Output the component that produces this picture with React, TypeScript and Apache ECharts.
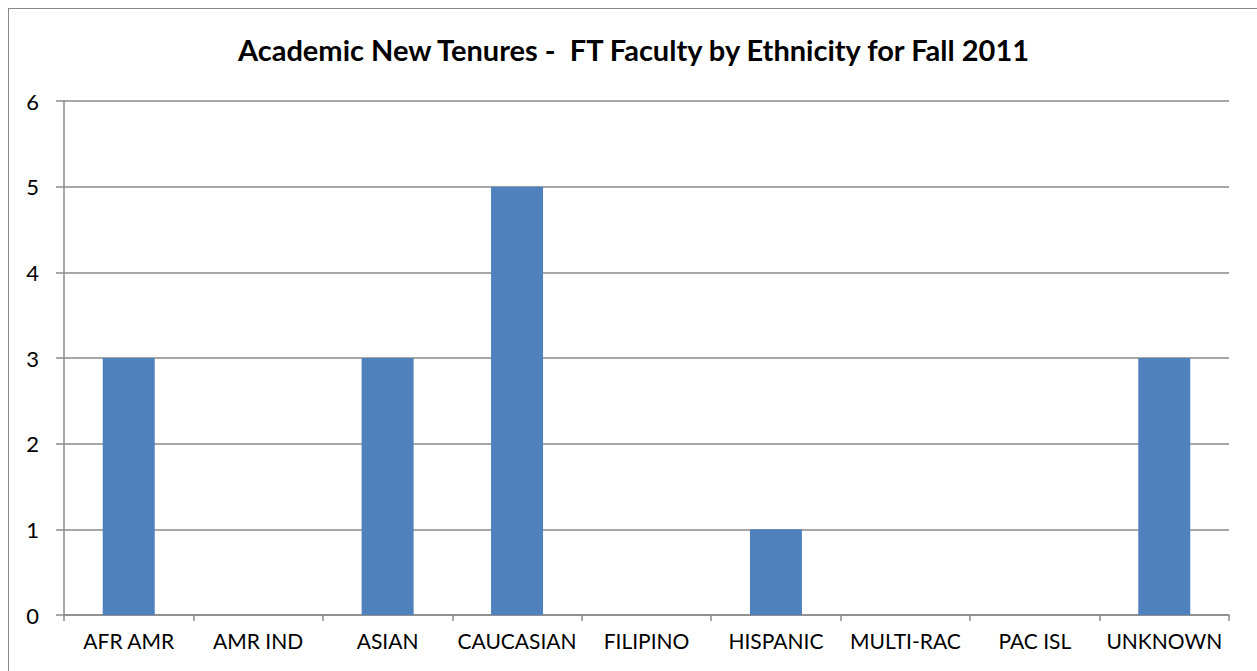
import React, { useEffect, useRef } from "react";
import * as echarts from "echarts";

const titleText = "Academic New Tenures -  FT Faculty by Ethnicity for Fall 2011";
const categories = ["AFR AMR", "AMR IND", "ASIAN", "CAUCASIAN", "FILIPINO", "HISPANIC", "MULTI-RAC", "PAC ISL", "UNKNOWN"];
const values = [3, 0, 3, 5, 0, 1, 0, 0, 3];

export default function App() {
  const ref = useRef<HTMLDivElement>(null);
  useEffect(() => {
    if (!ref.current) return;
    const chart = echarts.init(ref.current, undefined, { renderer: "svg" });
    const font = "Lato, 'Open Sans', sans-serif";
    chart.setOption({
      animation: false,
      backgroundColor: "#ffffff",
      title: {
        text: titleText,
        left: "center",
        top: 21,
        textStyle: { fontFamily: font, fontSize: 29, fontWeight: "bold", color: "#000" },
      },
      grid: { left: 55, right: 29, top: 92, bottom: 57 },
      xAxis: {
        type: "category",
        data: categories,
        axisLine: { lineStyle: { color: "#8a8a8a", width: 1.5 } },
        axisTick: { show: true, length: 6, interval: 0, lineStyle: { color: "#8a8a8a", width: 1.5 } },
        axisLabel: { color: "#000", fontFamily: font, fontSize: 21, margin: 15, interval: 0 },
      },
      yAxis: {
        type: "value",
        min: 0,
        max: 6,
        interval: 1,
        axisLine: { show: true, lineStyle: { color: "#8a8a8a", width: 1.5 } },
        axisTick: { show: true, length: 8, inside: false, lineStyle: { color: "#8a8a8a", width: 1.5 } },
        axisLabel: { color: "#000", fontFamily: font, fontSize: 22, margin: 25 },
        splitLine: { lineStyle: { color: "#8a8a8a", width: 1.5 } },
      },
      series: [
        {
          type: "bar",
          data: values,
          barWidth: 52,
          itemStyle: { color: "#4f81bd" },
        },
      ],
    });
    return () => chart.dispose();
  }, []);
  return (
    <div
      ref={ref}
      style={{
        position: "fixed",
        left: 8,
        top: 8,
        width: 1249,
        height: 663,
        borderLeft: "1.5px solid #888",
        borderTop: "1.5px solid #888",
        boxSizing: "content-box",
      }}
    />
  );
}
